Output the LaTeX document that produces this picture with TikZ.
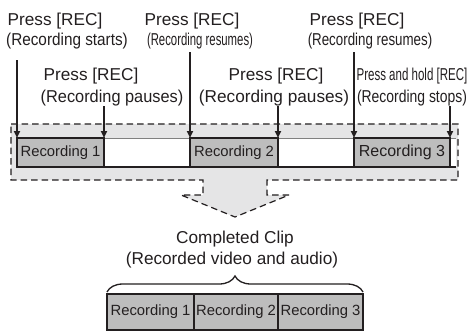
\documentclass[tikz,border=0pt]{standalone}
\usepackage{graphicx}
\usepackage{fontspec}
\setmainfont{Liberation Sans}
\usetikzlibrary{arrows.meta,decorations.pathreplacing}
\definecolor{ink}{HTML}{231F20}
\definecolor{boxgray}{HTML}{BDBDBD}
\definecolor{bandgray}{HTML}{E5E5E6}
\definecolor{linegray}{HTML}{808080}
\begin{document}
\begin{tikzpicture}[x=1pt,y=-1pt,
  lbl/.style={anchor=base, inner sep=0pt, font=\fontsize{17.2}{20}\selectfont, text=ink},
  recbox/.style={draw=ink, line width=1.8pt, fill=boxgray, inner sep=0pt, outer sep=0pt,
    font=\fontsize{14.8}{17}\selectfont, text=ink, anchor=north west},
  pressarrow/.style={draw=ink, line width=1.8pt, -{Triangle[length=7pt,width=6pt]}},
  band/.style={fill=bandgray, draw=ink, line width=1.2pt, dash pattern=on 6.5pt off 4pt},
]
\useasboundingbox[fill=white] (0,0) rectangle (472,335);

% dashed band with arrow
\path[band] (11,124) -- (458,124) -- (458,180) -- (267,180) -- (267,195) -- (289,195)
  -- (235,217) -- (181,195) -- (203,195) -- (203,180) -- (11,180) -- cycle;

% timeline strip
\fill[white] (17,138) rectangle (456,167);
\draw[linegray, line width=1pt] (17,138) -- (456,138);
\draw[ink, line width=1.2pt] (17,167) -- (456,167);

% recording boxes
\node[recbox, minimum width=87pt, minimum height=29pt] (r1) at (17,138) {Recording 1};
\node[recbox, minimum width=88pt, minimum height=29pt] (r2) at (190,138) {Recording 2};
\node[recbox, minimum width=96pt, minimum height=29pt, font=\fontsize{16}{18}\selectfont] (r3) at (354,138) {Recording 3};

% labels
\node[lbl] (l1a) at (55,25) {Press [REC]};
\node[lbl] (l1b) at (67,45) {\scalebox{0.89}[1]{(Recording starts)}};
\node[lbl] (l2a) at (91,80) {Press [REC]};
\node[lbl] (l2b) at (112,102) {\scalebox{0.95}[1]{(Recording pauses)}};
\node[lbl] (l3a) at (192,25) {Press [REC]};
\node[lbl] (l3b) at (200,45) {\scalebox{0.66}[1]{(Recording resumes)}};
\node[lbl] (l4a) at (276,80) {Press [REC]};
\node[lbl] (l4b) at (274,102) {(Recording pauses)};
\node[lbl] (l5a) at (357,25) {Press [REC]};
\node[lbl] (l5b) at (370,45) {\scalebox{0.775}[1]{(Recording resumes)}};
\node[lbl] (l6a) at (412,80) {\scalebox{0.67}[1]{Press and hold [REC]}};
\node[lbl] (l6b) at (412,102) {\scalebox{0.81}[1]{(Recording stops)}};

% arrows
\coordinate (s1) at (17,60);
\coordinate (s2) at (104,106);
\coordinate (s3) at (190,52);
\coordinate (s4) at (278,106);
\coordinate (s5) at (354,52);
\coordinate (s6) at (450,106);
\draw[pressarrow] (s1) -- (r1.north west);
\draw[pressarrow] (s2) -- (r1.north east);
\draw[pressarrow] (s3) -- (r2.north west);
\draw[pressarrow] (s4) -- (r2.north east);
\draw[pressarrow] (s5) -- (r3.north west);
\draw[pressarrow] (s6) -- (r3.north east);

% completed clip
\node[lbl] (c1) at (235,243) {Completed Clip};
\node[lbl] (c2) at (232,264) {(Recorded video and audio)};

\node[recbox, minimum width=87pt, minimum height=36pt] (b1) at (107,294) {Recording 1};
\node[recbox, minimum width=84pt, minimum height=36pt] (b2) at (194,294) {Recording 2};
\node[recbox, minimum width=85pt, minimum height=36pt] (b3) at (278,294) {Recording 3};

\coordinate (bl) at (107,292);
\coordinate (br) at (363,292);
\draw[ink, line width=1.3pt, decorate, decoration={brace, amplitude=16pt}] (bl) -- (br);
\end{tikzpicture}
\end{document}
